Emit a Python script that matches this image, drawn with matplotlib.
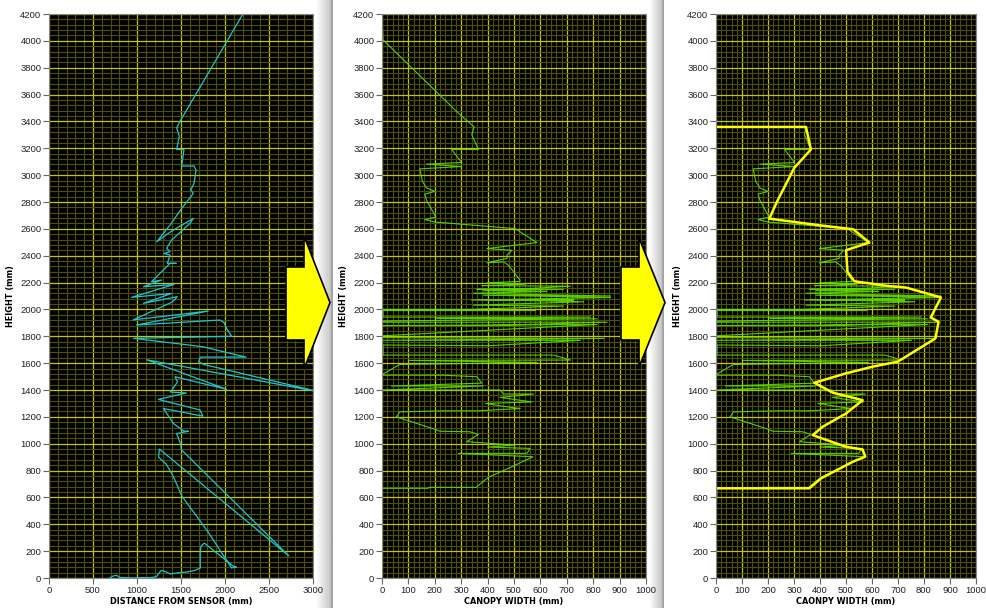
import numpy as np
import matplotlib
matplotlib.use("Agg")
import matplotlib.pyplot as plt
from matplotlib.patches import Polygon
from matplotlib.ticker import MultipleLocator

# raw sensor trace: distance from sensor (mm) vs height (mm)
dist = [691, 730, 770, 800, 850, 950, 1050, 1150, 1220, 1275, 1330, 1380, 1460,
        1570, 1650, 1720, 1718, 1725, 1765, 2100, 2130, 2075, 1800, 1510, 1410,
        1330, 1245, 1255, 2725, 1505, 1495, 1450, 1585, 1530, 1415, 1300, 1750,
        1716, 1242, 1560, 1380, 1460, 1432, 2019, 1110, 3080, 1760, 1700, 1720,
        2240, 2060, 1750, 960, 2075, 2020, 1990, 1943, 996, 1810, 957, 1400,
        1458, 1072, 1394, 940, 1420, 1072, 1280, 1165, 1375, 1443, 1345, 1375,
        1307, 1375, 1337, 1394, 1602, 1640, 1383, 1224, 1375, 1508, 1640, 1610,
        1648, 1671, 1648, 1508, 1534, 1451, 1481, 1451, 1489, 2203]
height1 = [0, 15, 20, 5, 3, 0, 3, 2, 10, 57, 45, 30, 38, 45, 55, 75, 180, 235,
           260, 85, 82, 75, 350, 610, 760, 850, 900, 960, 165, 955, 1000, 1075,
           1093, 1095, 1150, 1262, 1205, 1251, 1330, 1378, 1385, 1460, 1499, 1405,
           1625, 1385, 1590, 1610, 1645, 1645, 1673, 1722, 1785, 1800, 1855, 1900,
           1921, 1884, 1988, 1922, 2055, 2095, 2045, 2119, 2090, 2186, 2169, 2219,
           2206, 2343, 2343, 2343, 2405, 2417, 2430, 2455, 2517, 2641, 2678, 2579,
           2504, 2628, 2752, 2864, 2889, 2938, 3038, 3068, 3068, 3191, 3191, 3290,
           3351, 3401, 4200]

# canopy width (mm) vs height (mm)
width = [0, 0, 175, 178, 356, 403, 498, 572, 289, 549, 561, 400, 500, 321, 365,
         333, 219, 200, 54, 67, 238, 359, 523, 473, 392, 568, 447, 574, 460, 447,
         220, 4, 384, 35, 378, 359, 232, 4, 4, 67, 587, 105, 714, 650, 4, 4, 409,
         752, 4, 840, 4, 4, 815, 4, 409, 853, 4, 4, 815, 207, 790, 4, 4, 580, 42,
         4, 333, 688, 346, 764, 365, 726, 340, 866, 384, 866, 346, 625, 384, 688,
         359, 561, 714, 378, 542, 397, 523, 523, 479, 460, 397, 474, 473, 492,
         397, 587, 504, 200, 162, 204, 169, 162, 200, 169, 153, 143, 302, 169,
         302, 264, 365, 340, 349, 295, 4, 0]
height2 = [0, 668, 668, 675, 675, 750, 834, 903, 928, 928, 965, 975, 990, 1015,
           1069, 1089, 1093, 1108, 1200, 1237, 1245, 1245, 1262, 1275, 1300, 1311,
           1345, 1370, 1370, 1400, 1400, 1400, 1430, 1430, 1451, 1499, 1510, 1510,
           1519, 1590, 1605, 1620, 1623, 1660, 1660, 1735, 1730, 1770, 1770, 1784,
           1790, 1804, 1888, 1880, 1880, 1905, 1905, 1914, 1930, 1933, 1943, 1943,
           1992, 1992, 1992, 2000, 2000, 2025, 2032, 2057, 2074, 2070, 2070, 2089,
           2106, 2100, 2120, 2134, 2139, 2150, 2150, 2156, 2173, 2177, 2188, 2198,
           2209, 2218, 2329, 2354, 2347, 2380, 2404, 2441, 2453, 2498, 2602, 2651,
           2669, 2688, 2812, 2859, 2879, 2904, 2953, 3047, 3064, 3082, 3094, 3191,
           3191, 3302, 3359, 3451, 4007, 4200]

# outer envelope of canopy width
env_width = [0, 0, 359, 404, 526, 574, 564, 500, 372, 410, 500, 564, 449, 378,
             500, 603, 699, 844, 856, 826, 865, 731, 667, 532, 506, 500, 590, 528,
             397, 205, 237, 301, 365, 346, 0]
env_height = [606, 668, 668, 742, 866, 903, 957, 977, 1064, 1126, 1225, 1324,
              1380, 1454, 1524, 1574, 1611, 1784, 1908, 1940, 2089, 2163, 2173,
              2210, 2280, 2441, 2498, 2597, 2627, 2676, 2812, 3054, 3191, 3359, 3359]

W, H = 987, 608
fig = plt.figure(figsize=(W / 100, H / 100), dpi=100)
fig.patch.set_facecolor("white")


def px_axes(x0, x1, y0=14, y1=578):
    return fig.add_axes([x0 / W, 1 - y1 / H, (x1 - x0) / W, (y1 - y0) / H])


def style(ax, xmax, xmajor, xlabel):
    ax.set_facecolor("black")
    ax.set_xlim(0, xmax)
    ax.set_ylim(0, 4200)
    ax.xaxis.set_major_locator(MultipleLocator(xmajor))
    ax.xaxis.set_minor_locator(MultipleLocator(xmajor / 5))
    ax.yaxis.set_major_locator(MultipleLocator(200))
    ax.yaxis.set_minor_locator(MultipleLocator(40))
    ax.grid(which="minor", color="#4f4f00", lw=0.8)
    ax.grid(which="major", color="#c4c400", lw=0.9)
    ax.set_axisbelow(True)
    ax.tick_params(which="major", direction="out", length=4, width=0.8,
                   color="#666666", labelsize=6.8, pad=1.5, labelcolor="#222222",
                   labelfontfamily="Liberation Sans")
    ax.tick_params(which="minor", length=0)
    for s in ax.spines.values():
        s.set_color("#888888")
        s.set_linewidth(0.8)
    ax.set_xlabel(xlabel, fontsize=5.9, fontweight="bold", labelpad=1.5)
    ax.set_ylabel("HEIGHT (mm)", fontsize=5.9, fontweight="bold", labelpad=4)


# panel separators (grey gradient bars)
for x0, x1 in [(316, 333), (649, 664)]:
    sep = fig.add_axes([x0 / W, 0, (x1 - x0) / W, 1])
    grad = np.linspace(1.0, 0.74, 64)
    grad[-8:] = 0.64
    sep.imshow(grad[None, :], cmap="gray", vmin=0, vmax=1, aspect="auto",
               extent=[0, 1, 0, 1])
    sep.axis("off")

ax1 = px_axes(49, 313)
style(ax1, 3000, 500, "DISTANCE FROM SENSOR (mm)")
ax1.plot(dist, height1, color="#1cc4d8", lw=0.9)

ax2 = px_axes(382, 646)
style(ax2, 1000, 100, "CANOPY WIDTH (mm)")
ax2.plot(width, height2, color="#5fe000", lw=0.8, alpha=0.9)

ax3 = px_axes(716, 976)
style(ax3, 1000, 100, "CAONPY WIDTH (mm)")
ax3.plot(width[2:-3], height2[2:-3], color="#5fe000", lw=0.8, alpha=0.9)
ax3.plot(env_width, env_height, color="#ffff00", lw=1.8)


def arrow(xl, xb, xt, yt, yb, hy0, hy1):
    ym = (hy0 + hy1) / 2
    pts = [(xl, yt), (xb, yt), (xb, hy0), (xt, ym), (xb, hy1), (xb, yb), (xl, yb)]
    pts = [(x / W, 1 - y / H) for x, y in pts]
    fig.patches.append(Polygon(pts, closed=True, transform=fig.transFigure,
                               facecolor="#ffff00", edgecolor="black", lw=1.2,
                               zorder=5))


arrow(286, 304, 330, 267, 340, 236, 369)
arrow(621, 639, 665, 267, 340, 238, 367)

fig.savefig("out.png", dpi=100, facecolor="white")
